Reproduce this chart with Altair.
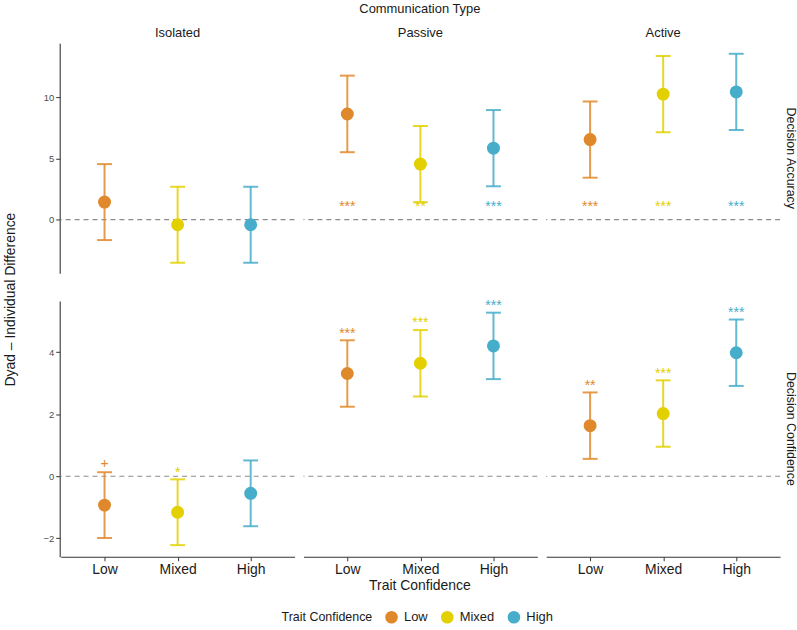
import altair as alt
import pandas as pd

# Model estimates: dyad minus individual difference, with 95% CIs
traits = ["Low", "Mixed", "High"]
comms = ["Isolated", "Passive", "Active"]
metrics = ["Decision Accuracy", "Decision Confidence"]
colors = ["#E0892C", "#E3D000", "#46ADCA"]

metric = ["Decision Accuracy"] * 9 + ["Decision Confidence"] * 9
comm = (["Isolated"] * 3 + ["Passive"] * 3 + ["Active"] * 3) * 2
trait = traits * 6
estimate = [1.43, -0.42, -0.42, 8.62, 4.53, 5.83, 6.53, 10.24, 10.42,
            -0.93, -1.16, -0.55, 3.31, 3.64, 4.20, 1.63, 2.02, 3.98]
lower = [-1.67, -3.52, -3.52, 5.50, 1.42, 2.72, 3.42, 7.13, 7.31,
         -1.99, -2.22, -1.61, 2.24, 2.57, 3.13, 0.56, 0.95, 2.91]
upper = [4.53, 2.68, 2.68, 11.75, 7.64, 8.94, 9.64, 13.35, 13.53,
         0.13, -0.10, 0.51, 4.38, 4.71, 5.27, 2.70, 3.09, 5.05]
sig = ["", "", "", "***", "**", "***", "***", "***", "***",
       "+", "*", "", "***", "***", "***", "**", "***", "***"]
sig_y = [0, 0, 0, 1.0, 1.0, 1.0, 1.0, 1.0, 1.0,
         0.41, 0.12, 0, 4.58, 4.93, 5.47, 2.92, 3.29, 5.26]

y_ticks = {"Decision Accuracy": [0, 5, 10], "Decision Confidence": [-2, 0, 2, 4]}

df = pd.DataFrame({
    "metric": metric, "comm": comm, "trait": trait, "estimate": estimate,
    "lower": lower, "upper": upper, "sig": sig, "sig_y": sig_y,
})

FONT = "Liberation Sans"


def metric_row(name, height, bottom):
    d = df[df.metric == name]
    lo, hi = d.lower.min(), d.upper.max()
    pad = 0.05 * (hi - lo)
    yscale = alt.Scale(domain=[lo - pad, hi + pad], nice=False, zero=False)
    yaxis = alt.Axis(title=None, values=y_ticks[name], grid=False,
                     labelColor="#4D4D4D", labelFontSize=9.5, tickSize=4,
                     labelPadding=2, domainColor="#333333", tickColor="#333333",
                     domainWidth=1.1)
    if bottom:
        xaxis = alt.Axis(title=None, labelAngle=0, labelFontSize=14,
                         labelColor="#1A1A1A", tickSize=4, labelPadding=2,
                         domainColor="#333333", tickColor="#333333",
                         domainWidth=1.1)
    else:
        xaxis = None
    xenc = alt.X("trait:N", sort=traits,
                 scale=alt.Scale(type="point", padding=0.6), axis=xaxis)
    # the points' colour scale carries the legend; bars, caps and stars use
    # data-driven stroke/fill scales with the same palette and no legend
    cleg = alt.Color("trait:N",
                     scale=alt.Scale(domain=traits, range=colors),
                     legend=alt.Legend(title="Trait Confidence"))
    stroke = alt.Stroke("trait:N", sort=traits, scale=alt.Scale(range=colors),
                        legend=None)
    fill = alt.Fill("trait:N", sort=traits, scale=alt.Scale(range=colors),
                    legend=None)

    zero = alt.Chart().transform_filter(alt.datum.trait == "Low").mark_rule(
        color="#8C8C8C", strokeDash=[5, 4], strokeWidth=1.1
    ).encode(y=alt.datum(0, scale=yscale))
    bars = alt.Chart().mark_rule(strokeWidth=2, opacity=0.85).encode(
        x=xenc, y=alt.Y("lower:Q", scale=yscale, axis=yaxis), y2="upper:Q",
        stroke=stroke)
    cap_lo = alt.Chart().mark_tick(orient="horizontal", size=15, thickness=2,
                                   opacity=0.85).encode(
        x=xenc, y=alt.Y("lower:Q", scale=yscale), fill=fill)
    cap_hi = alt.Chart().mark_tick(orient="horizontal", size=15, thickness=2,
                                   opacity=0.85).encode(
        x=xenc, y=alt.Y("upper:Q", scale=yscale), fill=fill)
    pts = alt.Chart().mark_circle(size=170, opacity=1).encode(
        x=xenc, y=alt.Y("estimate:Q", scale=yscale), color=cleg)
    stars = alt.Chart().transform_filter(alt.datum.sig != "").mark_text(
        fontSize=14, baseline="middle", font=FONT
    ).encode(x=xenc, y=alt.Y("sig_y:Q", scale=yscale), text="sig:N",
             fill=fill)

    if bottom:
        col_header = alt.Header(labels=False, title="Trait Confidence",
                                titleOrient="bottom", titleFontSize=14,
                                titleFontWeight="normal", titleColor="#1A1A1A",
                                titleFont=FONT, titlePadding=-8)
    else:
        col_header = alt.Header(title="Communication Type", titleFontSize=13,
                                titleFontWeight="normal", titleColor="#1A1A1A",
                                titleFont=FONT, titlePadding=2,
                                labelFontSize=13, labelColor="#1A1A1A",
                                labelFont=FONT, labelPadding=3)
    row_header = alt.Header(title=None, labelOrient="right", labelAngle=90,
                            labelFontSize=12.5, labelColor="#1A1A1A",
                            labelFont=FONT, labelPadding=3)

    return alt.layer(zero, bars, cap_lo, cap_hi, pts, stars, data=d).properties(
        width=235, height=height
    ).facet(
        column=alt.Column("comm:N", sort=comms, header=col_header),
        row=alt.Row("metric:N", header=row_header),
        spacing=7,
    )


top = metric_row("Decision Accuracy", 231, False)
bottom = metric_row("Decision Confidence", 257, True)

chart = alt.vconcat(top, bottom, spacing=26).resolve_scale(
    x="independent", y="independent"
).properties(
    title=alt.Title("Dyad – Individual Difference", orient="left",
                    anchor="middle", fontSize=14, fontWeight="normal",
                    color="#1A1A1A", font=FONT, offset=25, dx=14),
    padding={"left": 4, "top": 1, "right": 0, "bottom": 0},
).configure(font=FONT).configure_view(strokeWidth=0).configure_legend(
    orient="none", legendX=222, legendY=570, direction="horizontal",
    titleOrient="left",
    titleFontSize=12.5, titleFontWeight="normal", titleColor="#1A1A1A",
    labelFontSize=13, labelColor="#1A1A1A", symbolSize=160,
    symbolType="circle", symbolStrokeWidth=0, symbolOpacity=1,
    labelOffset=6, columnPadding=13, titlePadding=12,
)

chart.save("out.html", embed_options={"renderer": "svg", "actions": False})
